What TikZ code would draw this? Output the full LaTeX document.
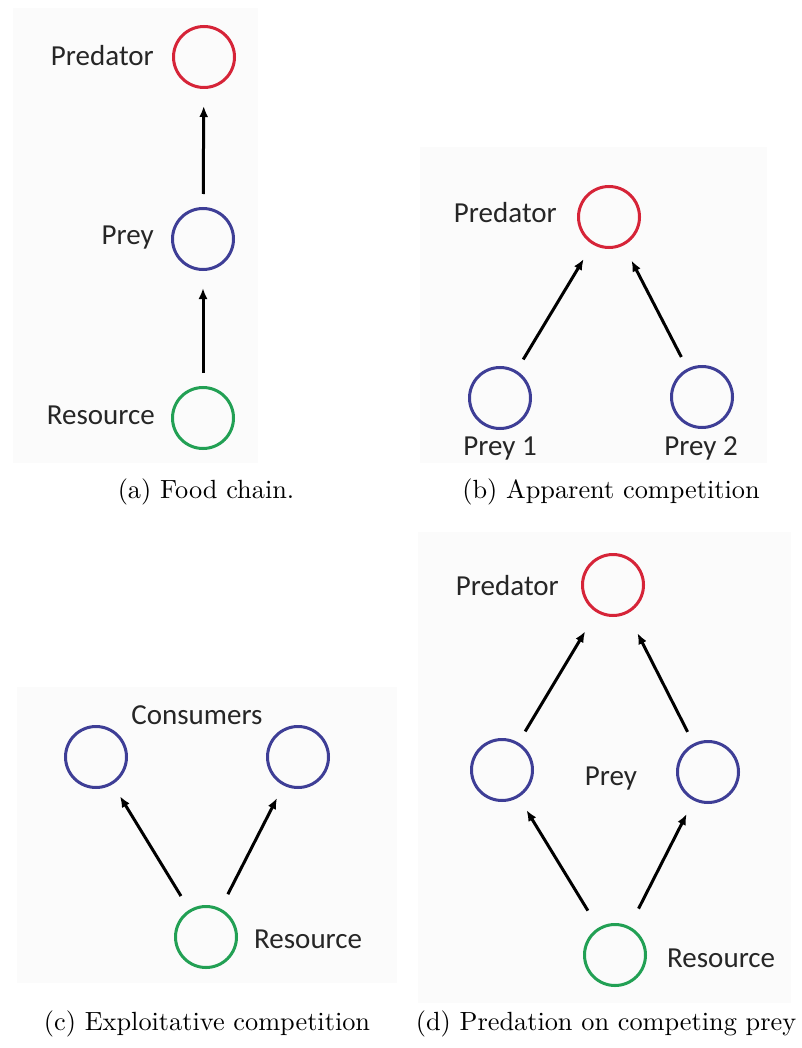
\documentclass[tikz,border=0pt]{standalone}
\usepackage{fontspec}
\newfontfamily\labfont{Carlito}
\usetikzlibrary{arrows.meta}
\definecolor{predred}{RGB}{214,36,56}
\definecolor{preyblue}{RGB}{62,62,150}
\definecolor{resgreen}{RGB}{34,160,84}
\definecolor{labgray}{RGB}{38,38,38}
\definecolor{panelbg}{RGB}{251,251,251}
\begin{document}
\begin{tikzpicture}[x=1pt,y=-1pt,
  sp/.style={circle, draw, line width=3pt, minimum size=61pt, inner sep=0pt},
  predsp/.style={sp, draw=predred},
  preysp/.style={sp, draw=preyblue},
  ressp/.style={sp, draw=resgreen},
  lbl/.style={font=\labfont\fontsize{29}{32}\selectfont, text=labgray, inner sep=0pt},
  capnode/.style={scale=2.63, inner sep=0pt, anchor=base},
  arr/.style={line width=3pt, -{Latex[length=11pt,width=9pt]}, shorten >=17pt, shorten <=13pt},
  panel/.style={fill=panelbg, draw=none}]
\useasboundingbox (0,0) rectangle (801,1048);
% panel backgrounds
\fill[panel] (13,8) rectangle (258,463);
\fill[panel] (420,147) rectangle (767,463);
\fill[panel] (17,687) rectangle (397,983);
\fill[panel] (418,532) rectangle (791,1003);

% (a) Food chain
\node[predsp] (aPred) at (204,57) {};
\node[preysp] (aPrey) at (203,239) {};
\node[ressp] (aRes) at (203,418) {};
\node[lbl, anchor=base east] (aPredL) at (154,66) {Predator};
\node[lbl, anchor=base east] (aPreyL) at (154,245) {Prey};
\node[lbl, anchor=base east] (aResL) at (155,424) {Resource};
\draw[arr] (aPrey) -- (aPred);
\draw[arr] (aRes) -- (aPrey);
\node[capnode] (aCap) at (206,498) {(a) Food chain.};

% (b) Apparent competition
\node[predsp] (bPred) at (609,217) {};
\node[preysp] (bPrey1) at (500,398) {};
\node[preysp] (bPrey2) at (702,397) {};
\node[lbl, anchor=base east] (bPredL) at (557,223) {Predator};
\node[lbl, anchor=base] (bPrey1L) at (500,455) {Prey 1};
\node[lbl, anchor=base] (bPrey2L) at (701,455) {Prey 2};
\draw[arr] (bPrey1) -- (bPred);
\draw[arr] (bPrey2) -- (bPred);
\node[capnode] (bCap) at (611,498) {(b) Apparent competition};

% (c) Exploitative competition
\node[preysp] (cCons1) at (96,757) {};
\node[preysp] (cCons2) at (298,757) {};
\node[ressp] (cRes) at (206,937) {};
\node[lbl, anchor=base] (cConsL) at (197,724) {Consumers};
\node[lbl, anchor=base west] (cResL) at (254,948) {Resource};
\draw[arr, shorten <=16pt, shorten >=14pt] (cRes) -- (cCons1);
\draw[arr, shorten <=16pt, shorten >=14pt] (cRes) -- (cCons2);
\node[capnode] (cCap) at (207,1030) {(c) Exploitative competition};

% (d) Predation on competing prey
\node[predsp] (dPred) at (613,585) {};
\node[preysp] (dPrey1) at (502,770) {};
\node[preysp] (dPrey2) at (708,772) {};
\node[ressp] (dRes) at (615,955) {};
\node[lbl, anchor=base east] (dPredL) at (559,595) {Predator};
\node[lbl, anchor=base] (dPreyL) at (611,785) {Prey};
\node[lbl, anchor=base west] (dResL) at (667,967) {Resource};
\draw[arr, shorten >=22pt] (dPrey1) -- (dPred);
\draw[arr, shorten >=22pt] (dPrey2) -- (dPred);
\draw[arr, shorten <=20pt, shorten >=15pt] (dRes) -- (dPrey1);
\draw[arr, shorten <=20pt, shorten >=15pt] (dRes) -- (dPrey2);
\node[capnode] (dCap) at (606,1030) {(d) Predation on competing prey};
\end{tikzpicture}
\end{document}
